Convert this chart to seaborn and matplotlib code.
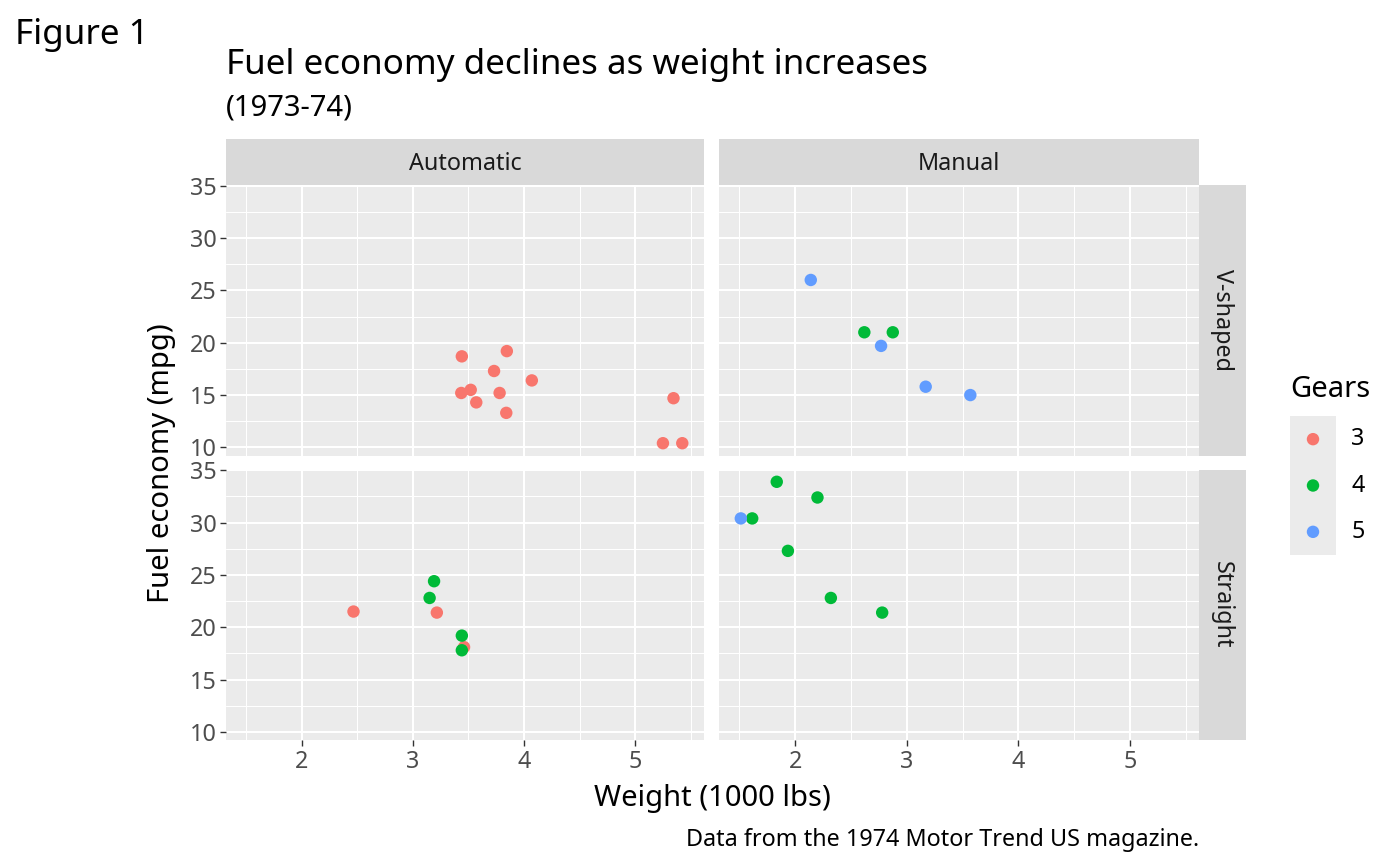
import numpy as np
import pandas as pd
import matplotlib
matplotlib.use("Agg")
import matplotlib.pyplot as plt
from matplotlib.ticker import MultipleLocator
import seaborn as sns

# mtcars (1973-74): weight, mpg, gears, transmission, engine shape
wt = [2.620, 2.875, 2.320, 3.215, 3.440, 3.460, 3.570, 3.190, 3.150, 3.440, 3.440,
      4.070, 3.730, 3.780, 5.250, 5.424, 5.345, 2.200, 1.615, 1.835, 2.465, 3.520,
      3.435, 3.840, 3.845, 1.935, 2.140, 1.513, 3.170, 2.770, 3.570, 2.780]
mpg = [21.0, 21.0, 22.8, 21.4, 18.7, 18.1, 14.3, 24.4, 22.8, 19.2, 17.8,
       16.4, 17.3, 15.2, 10.4, 10.4, 14.7, 32.4, 30.4, 33.9, 21.5, 15.5,
       15.2, 13.3, 19.2, 27.3, 26.0, 30.4, 15.8, 19.7, 15.0, 21.4]
gear = [4, 4, 4, 3, 3, 3, 3, 4, 4, 4, 4, 3, 3, 3, 3, 3, 3, 4, 4, 4, 3, 3,
        3, 3, 3, 4, 5, 5, 5, 5, 5, 4]
am = [1, 1, 1, 0, 0, 0, 0, 0, 0, 0, 0, 0, 0, 0, 0, 0, 0, 1, 1, 1, 0, 0,
      0, 0, 0, 1, 1, 1, 1, 1, 1, 1]
vs = [0, 0, 1, 1, 0, 1, 0, 1, 1, 1, 1, 0, 0, 0, 0, 0, 0, 1, 1, 1, 1, 0,
      0, 0, 0, 1, 0, 1, 0, 0, 0, 1]

trans_labels = ["Automatic", "Manual"]
engine_labels = ["V-shaped", "Straight"]
gear_levels = [3, 4, 5]
gear_colors = ["#F8766D", "#00BA38", "#619CFF"]
x_ticks = [2, 3, 4, 5]
y_ticks = [10, 15, 20, 25, 30, 35]

df = pd.DataFrame({"wt": wt, "mpg": mpg, "gear": gear, "am": am, "vs": vs})
df["trans"] = df["am"].map(dict(enumerate(trans_labels)))
df["engine"] = df["vs"].map(dict(enumerate(engine_labels)))

sns.set_theme(style="darkgrid", rc={
    "axes.facecolor": "#EBEBEB",
    "grid.color": "white",
    "axes.edgecolor": "none",
    "text.color": "black",
})
plt.rcParams["font.family"] = ["Noto Sans", "DejaVu Sans"]

W, H = 1400, 866
fig = plt.figure(figsize=(W / 100, H / 100), dpi=100)
fig.patch.set_facecolor("white")


def rect(x0, y0, x1, y1):
    # pixel box (top-left origin) -> figure fraction
    return [x0 / W, 1 - y1 / H, (x1 - x0) / W, (y1 - y0) / H]


def fx(x):
    return x / W


def fy(y):
    return 1 - y / H


cols = [(226, 704), (719, 1199)]
rows = [(185, 455.5), (469.5, 740)]

xr = max(wt) - min(wt)
yr = max(mpg) - min(mpg)
xlim = (min(wt) - 0.05 * xr, max(wt) + 0.05 * xr)
ylim = (min(mpg) - 0.05 * yr, max(mpg) + 0.05 * yr)

base = 21
small = base * 0.8


def strip(x0, y0, x1, y1, label, rot, ty=0.5):
    sax = fig.add_axes(rect(x0, y0, x1, y1))
    sax.set_facecolor("#D9D9D9")
    sax.set_xticks([])
    sax.set_yticks([])
    sax.grid(False)
    sax.text(0.5, ty, label, ha="center", va="center", fontsize=small,
             color="#1A1A1A", rotation=rot, transform=sax.transAxes)


for r, eng in enumerate(engine_labels):
    for c, tr in enumerate(trans_labels):
        ax = fig.add_axes(rect(cols[c][0], rows[r][0], cols[c][1], rows[r][1]))
        sub = df[(df["engine"] == eng) & (df["trans"] == tr)]
        sns.scatterplot(data=sub, x="wt", y="mpg", hue="gear", hue_order=gear_levels,
                        palette=gear_colors, s=80, edgecolor="none", legend=False, ax=ax,
                        zorder=3)
        ax.set_xlim(xlim)
        ax.set_ylim(ylim)
        ax.set_xticks(x_ticks)
        ax.set_yticks(y_ticks)
        ax.xaxis.set_minor_locator(MultipleLocator(0.5))
        ax.yaxis.set_minor_locator(MultipleLocator(2.5))
        ax.grid(which="major", color="white", lw=1.5)
        ax.grid(which="minor", color="white", lw=0.75)
        ax.set_axisbelow(True)
        for s in ax.spines.values():
            s.set_visible(False)
        ax.set_xlabel("")
        ax.set_ylabel("")
        ax.tick_params(which="minor", length=0)
        ax.tick_params(which="major", length=4, width=1, color="#333333",
                       labelcolor="#4D4D4D", labelsize=small, pad=3)
        ax.tick_params(axis="x", bottom=(r == 1), labelbottom=(r == 1))
        ax.tick_params(axis="y", left=(c == 0), labelleft=(c == 0))

        if r == 0:
            strip(cols[c][0], 139, cols[c][1], 185, tr, 0, ty=0.45)
        if c == 1:
            strip(1199, rows[r][0], 1245.5, rows[r][1], eng, -90)

# texts
fig.text(fx(15), fy(44), "Figure 1", fontsize=base * 1.2, va="baseline", ha="left")
fig.text(fx(226), fy(74), "Fuel economy declines as weight increases", fontsize=base * 1.2,
         va="baseline", ha="left")
fig.text(fx(226), fy(115), "(1973-74)", fontsize=base, va="baseline", ha="left")
fig.text(fx(712), fy(806), "Weight (1000 lbs)", fontsize=base, va="baseline", ha="center")
fig.text(fx(162), fy(463), "Fuel economy (mpg)", fontsize=base, va="center", ha="center",
         rotation=90)
fig.text(fx(1199), fy(846), "Data from the 1974 Motor Trend US magazine.", fontsize=small,
         va="baseline", ha="right")

# legend: grey key column with one row per gear
fig.text(fx(1290), fy(397), "Gears", fontsize=base, va="baseline", ha="left")
lax = fig.add_axes(rect(1290, 416, 1336, 555))
leg_df = pd.DataFrame({"x": [0.5] * len(gear_levels), "row": range(len(gear_levels)),
                       "gear": gear_levels})
sns.scatterplot(data=leg_df, x="x", y="row", hue="gear", hue_order=gear_levels,
                palette=gear_colors, s=80, edgecolor="none", legend=False, ax=lax)
lax.set_xlim(0, 1)
lax.set_ylim(len(gear_levels) - 0.5, -0.5)
lax.set_xticks([])
lax.set_yticks([])
lax.grid(False)
lax.set_xlabel("")
lax.set_ylabel("")
for i, g in enumerate(gear_levels):
    lax.annotate(str(g), xy=(1, i), xycoords=("axes fraction", "data"),
                 xytext=(11, 0), textcoords="offset points", fontsize=small,
                 va="center", ha="left", annotation_clip=False)

fig.savefig("out.png", dpi=100)
